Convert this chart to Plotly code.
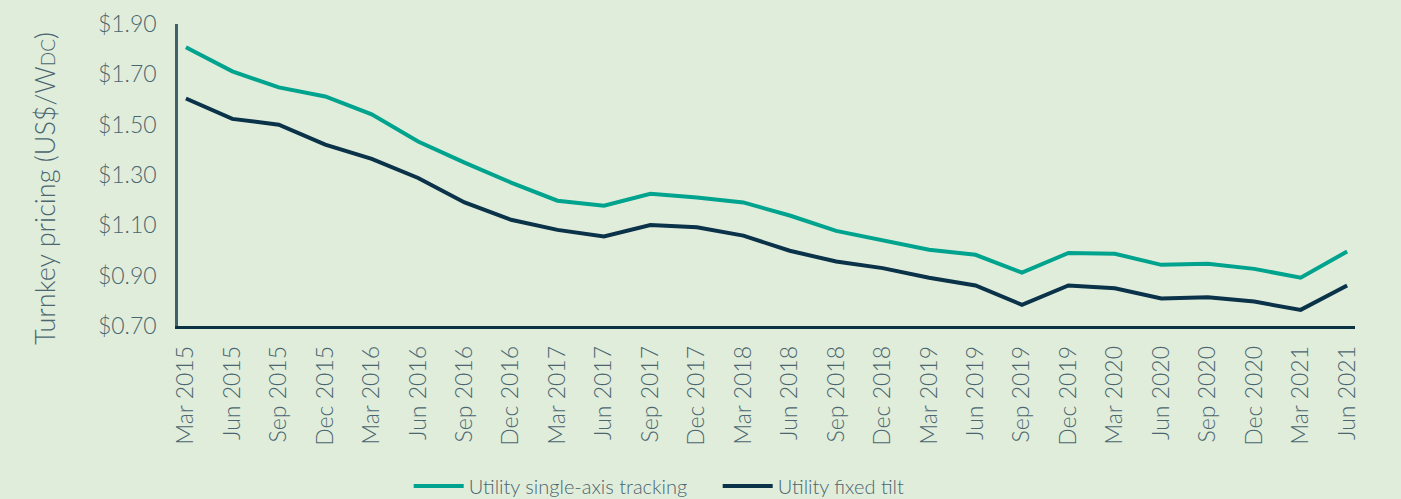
import plotly.graph_objects as go

quarters = ["Mar 2015", "Jun 2015", "Sep 2015", "Dec 2015", "Mar 2016", "Jun 2016", "Sep 2016", "Dec 2016",
            "Mar 2017", "Jun 2017", "Sep 2017", "Dec 2017", "Mar 2018", "Jun 2018", "Sep 2018", "Dec 2018",
            "Mar 2019", "Jun 2019", "Sep 2019", "Dec 2019", "Mar 2020", "Jun 2020", "Sep 2020", "Dec 2020",
            "Mar 2021", "Jun 2021"]
tracking = [1.808, 1.712, 1.648, 1.612, 1.541, 1.433, 1.349, 1.270, 1.198, 1.178, 1.225, 1.211, 1.191,
            1.139, 1.078, 1.040, 1.003, 0.983, 0.912, 0.990, 0.987, 0.943, 0.947, 0.927, 0.892, 0.996]
fixed_tilt = [1.604, 1.523, 1.500, 1.421, 1.364, 1.288, 1.191, 1.122, 1.082, 1.056, 1.101, 1.092, 1.059,
              0.999, 0.956, 0.930, 0.892, 0.861, 0.784, 0.861, 0.850, 0.809, 0.814, 0.797, 0.764, 0.861]
y_ticks = [0.70, 0.90, 1.10, 1.30, 1.50, 1.70, 1.90]
y_title = 'Turnkey pricing (US$/W<span style="font-size:19px">DC</span>)'

TEXT = "#4a6670"
BG = "#e1eddb"

fig = go.Figure()
fig.add_trace(go.Scatter(x=quarters, y=tracking, mode="lines", name="Utility single-axis tracking",
                         line=dict(color="#00a38d", width=4)))
fig.add_trace(go.Scatter(x=quarters, y=fixed_tilt, mode="lines", name="Utility fixed tilt",
                         line=dict(color="#0a3249", width=4)))

fig.update_layout(
    width=1401, height=499,
    paper_bgcolor=BG, plot_bgcolor=BG,
    margin=dict(l=178, r=46, t=24, b=173, autoexpand=False),
    font=dict(family="Lato", color=TEXT, size=23, weight=300),
    showlegend=True,
    legend=dict(orientation="h", x=0.196, xanchor="left", y=-0.53, yanchor="middle",
                font=dict(size=20, color=TEXT, weight=300), bgcolor="rgba(0,0,0,0)",
                itemwidth=50, entrywidth=244),
    xaxis=dict(type="category", range=[-0.17, 25.17], tickangle=-90, showgrid=False,
               showline=True, linecolor="#0c3344", linewidth=2.5, ticks="", zeroline=False,
               tickfont=dict(size=23, color=TEXT, weight=300), ticklabelstandoff=8),
    yaxis=dict(range=[0.70, 1.90], tickvals=y_ticks, ticktext=[f"${v:.2f}" for v in y_ticks],
               showgrid=False, showline=True, linecolor="#3f606c", linewidth=2.5, ticks="",
               zeroline=False, tickfont=dict(size=23, color=TEXT, weight=300), ticklabelstandoff=14),
    annotations=[dict(text=y_title, textangle=-90, xref="paper", yref="paper",
                      x=-0.113, y=0.457, xanchor="center", yanchor="middle", showarrow=False,
                      font=dict(size=27, color=TEXT, weight=300))],
)

fig.write_html("out.html", config={"displayModeBar": False},
               post_script="document.body.style.margin='0';")
